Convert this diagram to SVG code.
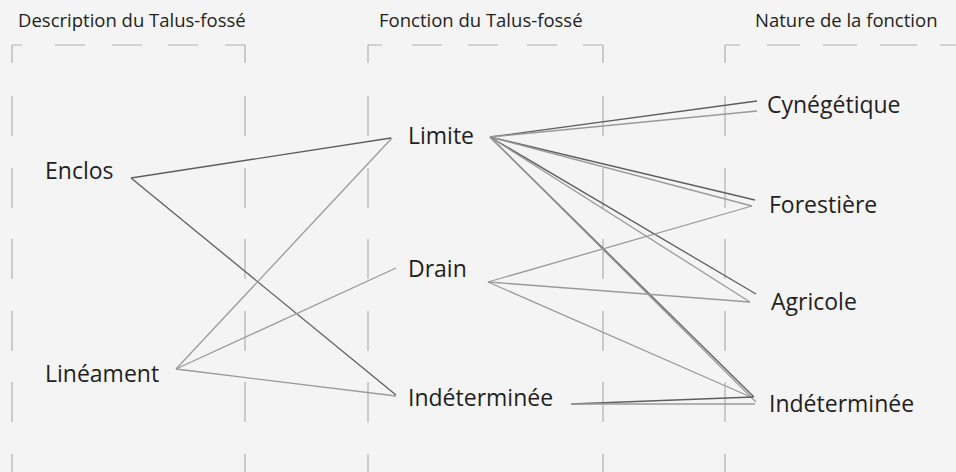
<svg xmlns="http://www.w3.org/2000/svg" width="956" height="472" viewBox="0 0 956 472">
<style>
.bg{fill:#f4f4f4}
.frame{fill:none;stroke:#b0b0b0;stroke-width:1.2}
.title{font-family:"Open Sans","Noto Sans",sans-serif;font-size:18.5px;fill:#231f20}
.lbl{font-family:"Open Sans","Noto Sans",sans-serif;font-size:23px;fill:#231f20}
.dk{fill:none;stroke:#5e5e5e;stroke-width:1.3}
.lt{fill:none;stroke:#9a9a9a;stroke-width:1.3}
</style>
<rect class="bg" x="0" y="0" width="956" height="472"/>
<g id="frames">
<path class="frame" d="M12 45H22M55 45H85M112 45H142M168 45H198M225 45H245"/>
<path class="frame" d="M368 45H382M412 45H442M468 45H498M527 45H557M583 45H603"/>
<path class="frame" d="M725 45H740M767 45H800M823 45H857M880 45H917M940 45H956"/>
<path class="frame" d="M12 45V63M12 96V136M12 168V208M12 239V279M12 311V351M12 382V422M12 454V494"/>
<path class="frame" d="M245 45V63M245 96V136M245 168V208M245 239V279M245 311V351M245 382V422M245 454V494"/>
<path class="frame" d="M368 45V63M368 96V136M368 168V208M368 239V279M368 311V351M368 382V422M368 454V494"/>
<path class="frame" d="M603 45V63M603 96V136M603 168V208M603 239V279M603 311V351M603 382V422M603 454V494"/>
<path class="frame" d="M725 45V63M725 96V136M725 168V208M725 239V279M725 311V351M725 382V422M725 454V494"/>
</g>
<g id="titles">
<text class="title" x="18" y="27">Description du Talus-fossé</text>
<text class="title" x="379" y="27">Fonction du Talus-fossé</text>
<text class="title" x="755" y="27">Nature de la fonction</text>
</g>
<g id="connectors">
<line class="dk" x1="131" y1="178" x2="391" y2="138"/>
<line class="dk" x1="131" y1="178" x2="396" y2="395"/>
<line class="lt" x1="176" y1="369" x2="392" y2="138"/>
<line class="lt" x1="176" y1="369" x2="396" y2="268"/>
<line class="lt" x1="176" y1="369" x2="396" y2="396"/>
<line class="dk" x1="490" y1="137" x2="757" y2="101"/>
<line class="lt" x1="490" y1="137" x2="757" y2="111"/>
<line class="dk" x1="490" y1="137" x2="755" y2="200"/>
<line class="lt" x1="490" y1="137" x2="752" y2="206"/>
<line class="dk" x1="490" y1="137" x2="756" y2="294"/>
<line class="lt" x1="490" y1="137" x2="750" y2="302"/>
<line class="dk" x1="490" y1="137" x2="754" y2="397"/>
<line class="lt" x1="490" y1="137" x2="756" y2="402"/>
<line class="lt" x1="488" y1="282" x2="752" y2="206"/>
<line class="lt" x1="488" y1="282" x2="750" y2="302"/>
<line class="lt" x1="488" y1="282" x2="753" y2="398"/>
<line class="dk" x1="571" y1="404" x2="753" y2="397"/>
<line class="lt" x1="571" y1="404" x2="755" y2="404"/>
</g>
<g id="n-enclos"><text class="lbl" x="45" y="179">Enclos</text></g>
<g id="n-lineament"><text class="lbl" x="45" y="382">Linéament</text></g>
<g id="n-limite"><text class="lbl" x="408" y="144">Limite</text></g>
<g id="n-drain"><text class="lbl" x="408" y="277">Drain</text></g>
<g id="n-indet1"><text class="lbl" x="408" y="406">Indéterminée</text></g>
<g id="n-cynegetique"><text class="lbl" x="767" y="113">Cynégétique</text></g>
<g id="n-forestiere"><text class="lbl" x="769" y="213">Forestière</text></g>
<g id="n-agricole"><text class="lbl" x="771" y="310">Agricole</text></g>
<g id="n-indet2"><text class="lbl" x="769" y="412">Indéterminée</text></g>
</svg>
